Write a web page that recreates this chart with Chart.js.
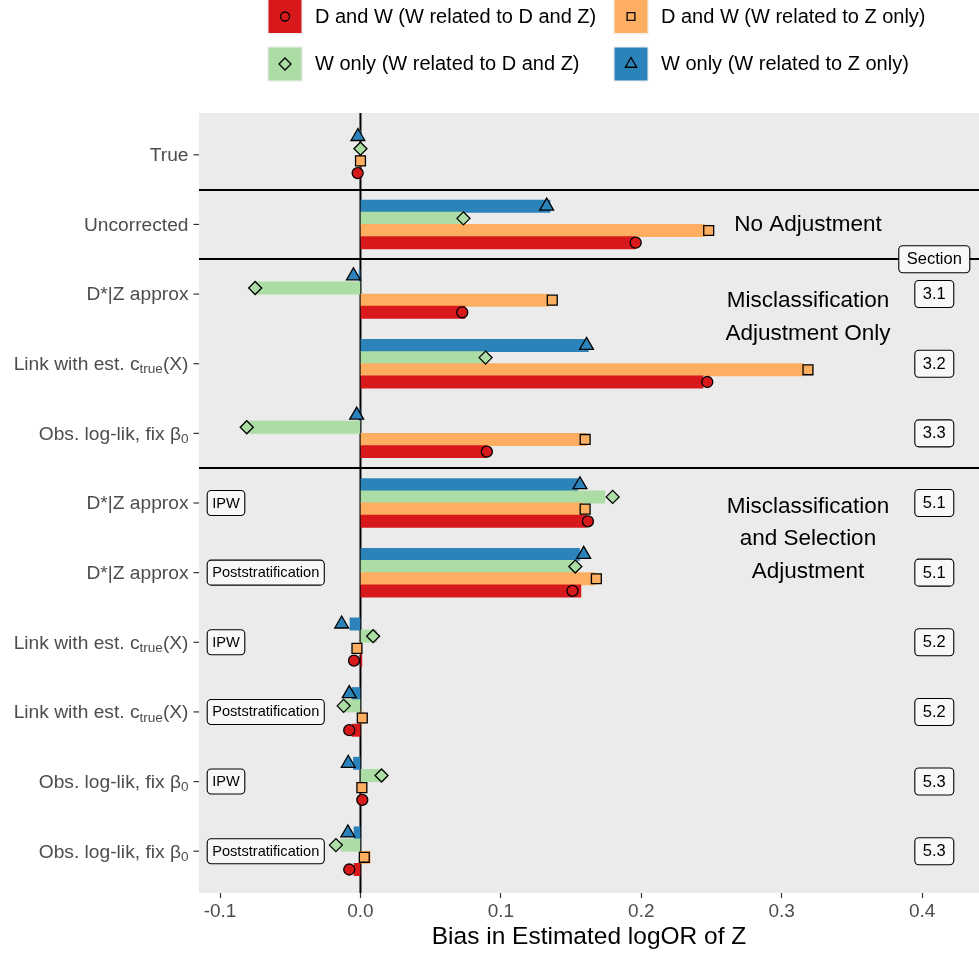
<!DOCTYPE html>
<html>
<head>
<meta charset="utf-8">
<script src="https://cdn.jsdelivr.net/npm/chart.js@4.4.0/dist/chart.umd.min.js"></script>
<style>
  html, body { margin: 0; padding: 0; background: #fff; }
</style>
</head>
<body>
<canvas id="canvas" width="979" height="953"></canvas>
<script>
// categories (top to bottom), _{..} marks a subscript
const categories = ['True', 'Uncorrected', 'D*|Z approx', 'Link with est. c_{true}(X)', 'Obs. log-lik, fix β_{0}',
    'D*|Z approx', 'D*|Z approx', 'Link with est. c_{true}(X)', 'Link with est. c_{true}(X)',
    'Obs. log-lik, fix β_{0}', 'Obs. log-lik, fix β_{0}'];
const weighting = ['', '', '', '', '', 'IPW', 'Poststratification', 'IPW', 'Poststratification', 'IPW', 'Poststratification'];
const sections = ['', '', '3.1', '3.2', '3.3', '5.1', '5.1', '5.2', '5.2', '5.3', '5.3'];

const seriesNames = ['D and W (W related to D and Z)', 'D and W (W related to Z only)',
    'W only (W related to D and Z)', 'W only (W related to Z only)'];
const seriesColors = ['#D7191C', '#FDAE61', '#ABDDA4', '#2B83BA'];
const seriesShapes = ['circle', 'rect', 'rectRot', 'triangle'];

// bias values: bars and points
const barRed      = [0.0000, 0.1955, 0.0744, 0.2440, 0.0899, 0.1610, 0.1570, 0.0010, -0.0060, 0.0005, -0.0046];
const pointRed    = [-0.0020, 0.1960, 0.0725, 0.2470, 0.0900, 0.1620, 0.1510, -0.0046, -0.0080, 0.0013, -0.0080];
const barOrange   = [0.0005, 0.2454, 0.1340, 0.3154, 0.1610, 0.1580, 0.1670, -0.0010, 0.0020, 0.0005, 0.0070];
const pointOrange = [0.0000, 0.2480, 0.1366, 0.3187, 0.1600, 0.1600, 0.1680, -0.0025, 0.0013, 0.0010, 0.0027];
const barGreen    = [0.0000, 0.0733, -0.0750, 0.0887, -0.0810, 0.1740, 0.1535, 0.0115, -0.0130, 0.0140, -0.0140];
const pointGreen  = [0.0000, 0.0733, -0.0750, 0.0891, -0.0810, 0.1796, 0.1530, 0.0090, -0.0120, 0.0150, -0.0175];
const barBlue     = [0.0000, 0.1350, -0.0010, 0.1623, -0.0010, 0.1547, 0.1560, -0.0075, -0.0060, -0.0050, -0.0046];
const pointBlue   = [-0.0018, 0.1326, -0.0050, 0.1610, -0.0027, 0.1563, 0.1590, -0.0134, -0.0080, -0.0087, -0.0090];

const xTicks = [-0.1, 0.0, 0.1, 0.2, 0.3, 0.4];
const separators = [0.5, 1.5, 4.5];
const groupNotes = [
    { lines: ['No Adjustment'], y: 1.0 },
    { lines: ['Misclassification', 'Adjustment Only'], y: 2.33 },
    { lines: ['Misclassification', 'and Selection', 'Adjustment'], y: 5.52 }
];

const barSets = [barRed, barOrange, barGreen, barBlue];
const pointSets = [pointRed, pointOrange, pointGreen, pointBlue];
const dodge = [0.2625, 0.0875, -0.0875, -0.2625];   // red at the bottom, blue on top
const FONT = "'Liberation Sans', Arial, Helvetica, sans-serif";

const datasets = [];
barSets.forEach((vals, s) => {
    datasets.push({
        type: 'bar',
        label: seriesNames[s],
        data: vals.map((v, i) => ({ x: v, y: i + dodge[s] })),
        backgroundColor: seriesColors[s],
        borderWidth: 0,
        barThickness: 12.3,
        grouped: false,
        order: 2
    });
});
const pointRadius = { circle: 5.5, rect: 7, rectRot: 6.5, triangle: 8 };
pointSets.forEach((vals, s) => {
    datasets.push({
        type: 'scatter',
        label: seriesNames[s],
        data: vals.map((v, i) => ({ x: v, y: i + dodge[s] })),
        pointStyle: seriesShapes[s],
        pointRadius: pointRadius[seriesShapes[s]],
        pointBackgroundColor: seriesColors[s],
        pointBorderColor: '#000000',
        pointBorderWidth: 1.3,
        showLine: false,
        order: 1
    });
});

function roundBox(ctx, x, y, w, h, r) {
    ctx.beginPath();
    ctx.moveTo(x + r, y);
    ctx.lineTo(x + w - r, y);
    ctx.arcTo(x + w, y, x + w, y + r, r);
    ctx.lineTo(x + w, y + h - r);
    ctx.arcTo(x + w, y + h, x + w - r, y + h, r);
    ctx.lineTo(x + r, y + h);
    ctx.arcTo(x, y + h, x, y + h - r, r);
    ctx.lineTo(x, y + r);
    ctx.arcTo(x, y, x + r, y, r);
    ctx.closePath();
}

function labelBox(ctx, text, x, y, size, padX, h, align) {
    ctx.font = size + 'px ' + FONT;
    const w = ctx.measureText(text).width + 2 * padX;
    const left = align === 'left' ? x : x - w / 2;
    roundBox(ctx, left + 0.5, y - h / 2, w, h, 4);
    ctx.fillStyle = '#F8F8F8';
    ctx.fill();
    ctx.strokeStyle = '#000000';
    ctx.lineWidth = 1.1;
    ctx.stroke();
    ctx.fillStyle = '#000000';
    ctx.textAlign = 'left';
    ctx.textBaseline = 'middle';
    ctx.fillText(text, left + padX + 0.5, y + 0.5);
}

const decor = {
    id: 'decor',
    beforeDraw(chart) {
        const { ctx, chartArea: a } = chart;
        ctx.save();
        ctx.fillStyle = '#FFFFFF';
        ctx.fillRect(0, 0, chart.width, chart.height);
        ctx.fillStyle = '#EBEBEB';
        ctx.fillRect(a.left, a.top, a.right - a.left, a.bottom - a.top);
        ctx.restore();
    },
    beforeDatasetsDraw(chart) {
        const { ctx, chartArea: a, scales: { x, y } } = chart;
        ctx.save();
        ctx.strokeStyle = '#000000';
        ctx.lineWidth = 2;
        separators.forEach(v => {
            const py = Math.round(y.getPixelForValue(v));
            ctx.beginPath();
            ctx.moveTo(a.left, py);
            ctx.lineTo(a.right, py);
            ctx.stroke();
        });
        const px = x.getPixelForValue(0);
        ctx.beginPath();
        ctx.moveTo(px, a.top);
        ctx.lineTo(px, a.bottom);
        ctx.stroke();
        ctx.restore();
    },
    afterDatasetsDraw(chart) {
        const { ctx, scales: { x, y } } = chart;
        ctx.save();
        // group notes
        ctx.fillStyle = '#000000';
        ctx.font = '22.5px ' + FONT;
        ctx.textAlign = 'center';
        ctx.textBaseline = 'middle';
        const nx = x.getPixelForValue(0.3187);
        groupNotes.forEach(n => {
            const cy = y.getPixelForValue(n.y);
            const lh = 32.8;
            n.lines.forEach((t, k) => {
                ctx.fillText(t, nx, cy + (k - (n.lines.length - 1) / 2) * lh);
            });
        });
        // weighting boxes
        const wx = x.getPixelForValue(-0.1095);
        weighting.forEach((t, i) => {
            if (t) labelBox(ctx, t, wx, y.getPixelForValue(i), 14.6, 5, 25, 'left');
        });
        // section boxes
        const sx = x.getPixelForValue(0.4083);
        labelBox(ctx, 'Section', sx, y.getPixelForValue(1.5), 16.5, 8, 27, 'center');
        sections.forEach((t, i) => {
            if (t) labelBox(ctx, t, sx, y.getPixelForValue(i), 16.5, 8, 27, 'center');
        });
        ctx.restore();
    },
    afterDraw(chart) {
        const { ctx, chartArea: a, scales: { y } } = chart;
        ctx.save();
        // y axis labels with subscripts
        const size = 19.2, sub = 13.6;
        categories.forEach((lab, i) => {
            const py = y.getPixelForValue(i) + 1;
            const m = lab.match(/^(.*?)(?:_\{(.*?)\}(.*))?$/);
            const parts = [[m[1], size, 0], [m[2] || '', sub, 5], [m[3] || '', size, 0]];
            let total = 0;
            parts.forEach(p => { ctx.font = p[1] + 'px ' + FONT; total += ctx.measureText(p[0]).width; });
            let cx = a.left - 10.5 - total;
            ctx.fillStyle = '#4D4D4D';
            ctx.textAlign = 'left';
            ctx.textBaseline = 'middle';
            parts.forEach(p => {
                ctx.font = p[1] + 'px ' + FONT;
                ctx.fillText(p[0], cx, py + p[2]);
                cx += ctx.measureText(p[0]).width;
            });
            ctx.strokeStyle = '#333333';
            ctx.lineWidth = 1.2;
            ctx.beginPath();
            ctx.moveTo(a.left - 5.5, py - 1);
            ctx.lineTo(a.left, py - 1);
            ctx.stroke();
        });
        // legend
        const cols = [268, 614], rows = [16.5, 64], key = 34;
        const slots = [[0, 0], [1, 0], [0, 1], [1, 1]];
        const legendRadius = { circle: 4.5, rect: 5.5, rectRot: 6, triangle: 6.5 };
        slots.forEach(([c, r], s) => {
            const kx = cols[c], ky = rows[r] - key / 2;
            ctx.fillStyle = '#F2F2F2';
            ctx.fillRect(kx - 1, ky - 1, key + 2, key + 2);
            ctx.fillStyle = seriesColors[s];
            ctx.fillRect(kx + 0.5, ky + 0.5, key - 1, key - 1);
            ctx.fillStyle = seriesColors[s];
            ctx.strokeStyle = '#000000';
            ctx.lineWidth = 1.3;
            Chart.helpers.drawPoint(ctx, {
                pointStyle: seriesShapes[s],
                radius: legendRadius[seriesShapes[s]],
                borderWidth: 1.3,
                rotation: 0
            }, kx + key / 2, rows[r]);
            ctx.fillStyle = '#000000';
            ctx.font = '20px ' + FONT;
            ctx.textAlign = 'left';
            ctx.textBaseline = 'middle';
            ctx.fillText(seriesNames[s], kx + key + 13, rows[r] + 0.5);
        });
        ctx.restore();
    }
};

const ctx = document.getElementById('canvas').getContext('2d');
const myChart = new Chart(ctx, {
    type: 'bar',
    data: { datasets: datasets },
    options: {
        indexAxis: 'y',
        responsive: false,
        devicePixelRatio: 1,
        animation: false,
        events: [],
        layout: { autoPadding: false, padding: { top: 113, left: 0, right: 0, bottom: 0 } },
        plugins: {
            legend: { display: false },
            tooltip: { enabled: false }
        },
        scales: {
            x: {
                type: 'linear',
                min: -0.115,
                max: 0.4405,
                offset: false,
                afterBuildTicks: s => { s.ticks = xTicks.map(v => ({ value: v })); },
                afterFit: s => { s.height = 60; s.paddingLeft = 0; s.paddingRight = 0; },
                grid: {
                    display: true,
                    drawOnChartArea: false,
                    drawTicks: true,
                    tickLength: 5,
                    tickColor: '#333333',
                    tickWidth: 1.2
                },
                border: { display: false },
                ticks: {
                    font: { family: FONT, size: 19 },
                    color: '#4D4D4D',
                    padding: 2,
                    callback: v => Number(v).toFixed(1)
                },
                title: {
                    display: true,
                    text: 'Bias in Estimated logOR of Z',
                    font: { family: FONT, size: 24.5 },
                    color: '#000000',
                    padding: { top: 0, bottom: 1 }
                }
            },
            y: {
                type: 'linear',
                min: -0.6,
                max: 10.6,
                reverse: true,
                offset: false,
                afterFit: s => { s.width = 199; s.paddingTop = 0; s.paddingBottom = 0; },
                ticks: { display: false },
                grid: { display: false, offset: false },
                border: { display: false }
            }
        }
    },
    plugins: [decor]
});
</script>
</body>
</html>
